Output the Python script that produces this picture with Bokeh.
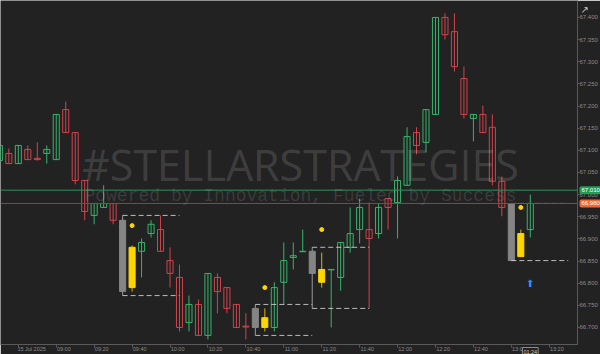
from bokeh.plotting import figure
from bokeh.models import (Range1d, FixedTicker, Span, Label, ColumnDataSource,
                          PrintfTickFormatter)
from bokeh.core.properties import value
from bokeh.embed import file_html
from bokeh.resources import INLINE

# 5-minute bars, 15 Jul 2025
times = ["08:30", "08:35", "08:40", "08:45", "08:50", "08:55", "09:00", "09:05",
         "09:10", "09:15", "09:20", "09:25", "09:30", "09:35", "09:40", "09:45",
         "09:50", "09:55", "10:00", "10:05", "10:10", "10:15", "10:20", "10:25",
         "10:30", "10:35", "10:40", "10:45", "10:50", "10:55", "11:00", "11:05",
         "11:10", "11:15", "11:20", "11:25", "11:30", "11:35", "11:40", "11:45",
         "11:50", "11:55", "12:00", "12:05", "12:10", "12:15", "12:20", "12:25",
         "12:30", "12:35", "12:40", "12:45", "12:50", "12:55", "13:00", "13:05",
         "13:10"]
opens = [67.077, 67.093, 67.070, 67.102, 67.082, 67.093, 67.079, 67.192,
         67.140, 67.032, 66.953, 66.971, 66.980, 66.942, 66.790, 66.872,
         66.912, 66.921, 66.851, 66.813, 66.711, 66.752, 66.682, 66.813,
         66.790, 66.752, 66.703, 66.743, 66.700, 66.700, 66.802, 66.858,
         66.871, 66.872, 66.802, 66.830, 66.813, 66.881, 66.921, 66.921,
         66.912, 66.991, 66.982, 67.021, 67.140, 67.118, 67.181, 67.400,
         67.368, 67.262, 67.172, 67.181, 67.152, 67.030, 66.980, 66.860,
         66.921]
highs = [67.115, 67.104, 67.111, 67.111, 67.118, 67.111, 67.181, 67.210,
         67.140, 67.032, 66.980, 67.021, 66.980, 66.953, 66.885, 66.901,
         66.942, 66.953, 66.881, 66.842, 66.772, 66.763, 66.822, 66.822,
         66.790, 66.752, 66.732, 66.752, 66.743, 66.802, 66.892, 66.892,
         66.921, 66.881, 66.869, 66.831, 66.892, 66.971, 66.991, 66.982,
         66.980, 66.991, 67.041, 67.152, 67.152, 67.192, 67.400, 67.409,
         67.409, 67.289, 67.181, 67.201, 67.181, 67.041, 66.980, 66.921,
         67.000]
lows = [67.070, 67.070, 67.070, 67.079, 67.077, 67.070, 67.079, 67.140,
        67.023, 66.942, 66.933, 66.971, 66.933, 66.772, 66.781, 66.813,
        66.903, 66.872, 66.790, 66.691, 66.691, 66.682, 66.673, 66.732,
        66.732, 66.700, 66.673, 66.682, 66.691, 66.691, 66.752, 66.831,
        66.871, 66.743, 66.790, 66.700, 66.783, 66.869, 66.890, 66.743,
        66.901, 66.921, 66.901, 67.021, 67.091, 67.095, 67.181, 67.350,
        67.278, 67.172, 67.120, 67.140, 67.021, 66.951, 66.851, 66.860,
        66.903]
closes = [67.111, 67.070, 67.111, 67.079, 67.079, 67.102, 67.181, 67.140,
          67.032, 66.962, 66.980, 66.980, 66.942, 66.781, 66.881, 66.892,
          66.933, 66.872, 66.822, 66.700, 66.752, 66.682, 66.822, 66.781,
          66.743, 66.700, 66.701, 66.700, 66.722, 66.790, 66.851, 66.862,
          66.872, 66.822, 66.831, 66.831, 66.892, 66.912, 66.971, 66.901,
          66.971, 66.971, 67.032, 67.131, 67.111, 67.192, 67.400, 67.361,
          67.289, 67.181, 67.181, 67.140, 67.030, 66.971, 66.851, 66.912,
          66.980]

# inside-bar setups: mother bar (grey) followed by the inside bar (yellow)
mother_times = ["09:35", "10:45", "11:15", "13:00"]
signal_times = ["09:40", "10:50", "11:20", "13:05"]
signal_prices = [66.930, 66.790, 66.921, 66.971]
arrow_times = ["13:10"]
arrow_prices = [66.800]

level_price = 67.010
last_price = closes[-1]
countdown = "01:24"

y_ticks = [66.70, 66.75, 66.80, 66.85, 66.90, 66.95, 67.00, 67.05, 67.10,
           67.15, 67.20, 67.25, 67.30, 67.35, 67.40]
x_tick_times = ["08:40", "09:00", "09:20", "09:40", "10:00", "10:20", "10:40",
                "11:00", "11:20", "11:40", "12:00", "12:20", "12:40", "13:00",
                "13:20"]
x_tick_labels = ["15 Jul 2025", "09:00", "09:20", "09:40", "10:00", "10:20",
                 "10:40", "11:00", "11:20", "11:40", "12:00", "12:20", "12:40",
                 "13:00", "13:20"]

BG = "#222222"
UP = "#34b56a"
DOWN = "#d3434b"
MOTHER = "#858585"
INSIDE = "#ffd500"


def to_min(t):
    h, m = t.split(":")
    return int(h) * 60 + int(m)


x = [to_min(t) for t in times]
mother_x = [to_min(t) for t in mother_times]
inside_x = [m + 5 for m in mother_x]

body_line, body_fill, body_alpha, wick_col = [], [], [], []
for xi, o, c in zip(x, opens, closes):
    if xi in mother_x:
        col, fill, a, w = MOTHER, MOTHER, 1.0, "#9a9a9a"
    elif xi in inside_x:
        col, fill, a, w = INSIDE, INSIDE, 1.0, "#d9b400"
    elif c >= o:
        col, fill, a, w = UP, BG, 0.0, UP
    else:
        col, fill, a, w = DOWN, BG, 0.0, DOWN
    body_line.append(col)
    body_fill.append(fill)
    body_alpha.append(a)
    wick_col.append(w)

src = ColumnDataSource(dict(
    x=x, high=highs, low=lows,
    top=[max(o, c) for o, c in zip(opens, closes)],
    bottom=[min(o, c) for o, c in zip(opens, closes)],
    line=body_line, fill=body_fill, alpha=body_alpha, wick=wick_col,
))

X_START, X_END = 510.6, 814.9
Y_BOTTOM, Y_TOP = 66.6615, 67.4383
p = figure(width=600, height=354, output_backend="svg", toolbar_location=None,
           x_range=Range1d(X_START, X_END), y_range=Range1d(Y_BOTTOM, Y_TOP),
           x_axis_location="below", y_axis_location="right",
           background_fill_color=BG, border_fill_color=BG,
           outline_line_color=None, min_border=0)
p.grid.visible = False

# candles
p.segment(x0="x", y0="low", x1="x", y1="high", line_color="wick",
          line_width=1, source=src)
p.vbar(x="x", width=3.2, top="top", bottom="bottom", line_color="line",
       fill_color="fill", fill_alpha="alpha", line_width=1, source=src)

# dashed range boxes projected from each mother bar
box_src = ColumnDataSource(dict(
    x0=mother_x, x1=[m + 30 for m in mother_x],
    hi=[highs[x.index(m)] for m in mother_x],
    lo=[lows[x.index(m)] for m in mother_x],
))
p.segment(x0="x0", y0="hi", x1="x1", y1="hi", line_color="#d6d6d6",
          line_dash="5 3", line_width=1, line_alpha=0.85, source=box_src)
p.segment(x0="x0", y0="lo", x1="x1", y1="lo", line_color="#d6d6d6",
          line_dash="5 3", line_width=1, line_alpha=0.85, source=box_src)

# signal dots and entry arrow
p.scatter(x=[to_min(t) for t in signal_times], y=signal_prices, size=4,
          color=INSIDE)
p.text(x=[to_min(t) for t in arrow_times], y=arrow_prices, text=["⬆"],
       text_font=value("DejaVu Sans"), text_font_size="10px",
       text_color="#2f8fff", text_align="center", text_baseline="middle")

# price lines
p.add_layout(Span(location=level_price, dimension="width",
                  line_color="#22985a", line_width=1))
p.add_layout(Span(location=last_price, dimension="width",
                  line_color="#8a4a32", line_width=1))

# watermark
p.add_layout(Label(x=300, y=180, x_units="screen", y_units="screen",
                   text="#STELLARSTRATEGIES", text_font="Open Sans",
                   text_font_size="43px", text_color="#ffffff",
                   text_alpha=0.15, text_align="center",
                   text_baseline="middle"))
p.add_layout(Label(x=300, y=149, x_units="screen", y_units="screen",
                   text="Powered by Innovation, Fueled by Success",
                   text_font="Liberation Mono", text_font_size="18px",
                   text_color="#ffffff", text_alpha=0.12,
                   text_align="center", text_baseline="middle"))

# axes
xa = p.xaxis[0]
tick_pos = [to_min(t) for t in x_tick_times]
label_pos = [t + (7 if i == 0 else 4) for i, t in enumerate(tick_pos)]
xa.ticker = FixedTicker(ticks=label_pos, minor_ticks=tick_pos)
xa.major_label_overrides = {lp: lab for lp, lab in zip(label_pos, x_tick_labels)}
xa.major_tick_out = 0
xa.major_tick_in = 0
xa.minor_tick_out = 3
xa.minor_tick_in = 0
xa.minor_tick_line_color = "#5a5a5a"
xa.axis_line_color = "#5a5a5a"
xa.major_label_standoff = -2
xa.major_label_text_font = "Liberation Sans"
xa.major_label_text_font_size = "5.5px"
xa.major_label_text_color = "#8c8c8c"

ya = p.yaxis[0]
ya.ticker = FixedTicker(ticks=y_ticks)
ya.formatter = PrintfTickFormatter(format="%.3f")
ya.major_tick_out = 2
ya.major_tick_in = 0
ya.minor_tick_out = 0
ya.minor_tick_in = 0
ya.major_tick_line_color = "#5a5a5a"
ya.axis_line_color = "#5a5a5a"
ya.major_label_standoff = 0
ya.major_label_text_font = "Liberation Sans"
ya.major_label_text_font_size = "6px"
ya.major_label_text_color = "#8c8c8c"

# price tags on the scale (overlay level so they can sit over the axis)
p.text(x=[X_END, X_END], y=[level_price, last_price],
       text=[f"{level_price:.3f}", f"{last_price:.3f}"], x_offset=2,
       text_font=value("Liberation Sans"), text_font_size="6px",
       text_color="#ffffff", background_fill_color=["#1f9d55", "#ec6a35"],
       text_align="left", text_baseline="middle", padding=2,
       border_radius=2, level="overlay")

# bar countdown under the last bar
p.text(x=[to_min(times[-1])], y=[Y_BOTTOM], text=[countdown], y_offset=3,
       text_font=value("Liberation Sans"), text_font_size="5.5px",
       text_color="#cfcfcf", background_fill_color=BG,
       border_line_color="#8c8c8c", text_align="center",
       text_baseline="top", padding=1, level="overlay")

# expand icon
p.text(x=[X_END], y=[Y_TOP], text=["↗"], x_offset=3, y_offset=3,
       text_font=value("DejaVu Sans"), text_font_size="10px",
       text_color="#cfcfcf", text_align="left", text_baseline="top",
       level="overlay")

open("out.html", "w").write(file_html(p, INLINE))
